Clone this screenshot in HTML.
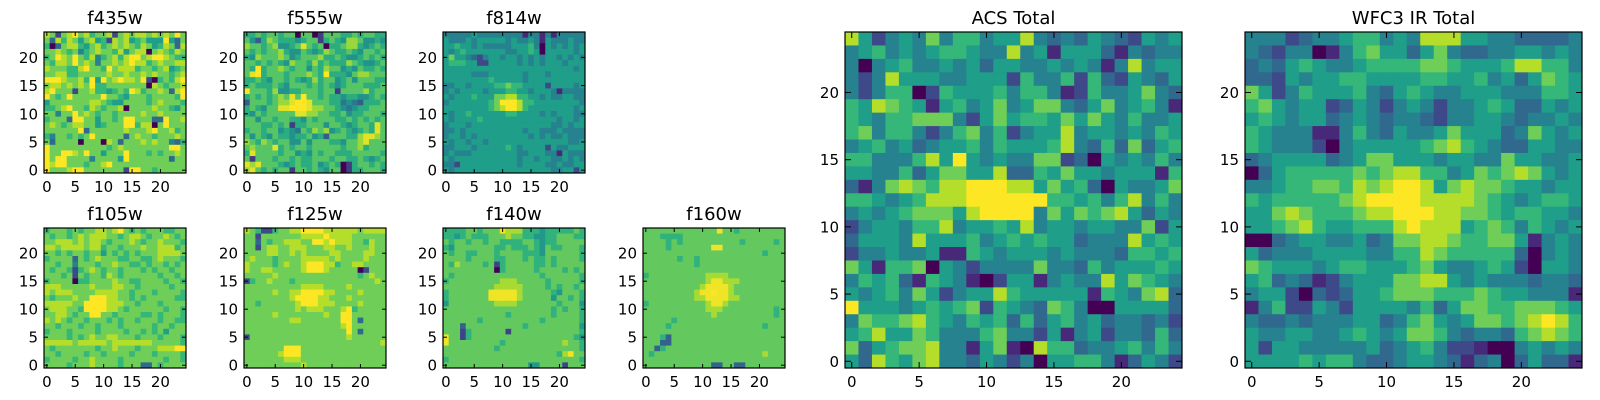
<!DOCTYPE html>
<html><head><meta charset="utf-8"><style>
html,body{margin:0;padding:0;background:#fff;}
svg{display:block;font-family:"DejaVu Sans","Liberation Sans",sans-serif;}
</style></head><body>
<svg id="fig" width="1600" height="400" viewBox="0 0 1600 400" xmlns="http://www.w3.org/2000/svg"></svg>
<script>
// Each heatmap: 25 rows (top row = y 24 ... bottom row = y 0), digits 0-9 = colour level
const f435w = [
"7616786756671676776767686","6275764674517674564448426","5026775467567676576457627","6676563567665746770676576",
"5687686573567578867897655","6577686763667678775676677","7666557866586777566567456","6677556666676676676766567",
"8887667594867877681056578","6776767695566666660765667","7866616675545658756676278","9656866666866546665666658",
"4666666677654466665676665","5567866576566706666766546","6636686765665666676676666","5666298664665688666228667",
"6765677664566688577068666","6666668266666676667866756","5366565686666626766566676","6266660666076266676766325",
"8666666666656766666666886","8668876866466686665656676","8699666636666486666666266","8799666566786666666666666",
"8666798666666618866566666"];
const f555w = [
"5565665660660166655656655","6425765554566156547764454","7665674456865605567754565","6565667544654576556546656",
"5476667645666755654456565","6656565476657565557654456","6595667656646576645465565","6895666566676595554677666",
"5565466565457566456466655","5655565466656565456665556","9666574455666566166667566","5656567686966565545544565",
"2666567789986665534325556","5654668899987766543455666","5465666668877665564556665","6646656655465666556565656",
"6665565615566646654566586","5665664543657674565456586","6465465545564526665578876","7657656644646665546678666",
"6766685656656666656675666","5866665664546566555666665","6166656656556665665565456","8786665456556456501566565",
"7865656616656546601556665"];
const f814w = [
"4444454444444414414144444","5444545555545445415444544","5565545444445556405454545","5456555555544556505555545",
"5755432455455454545545454","5666552255555454545554555","5555555555555555555555545","5555544455555545554555555",
"5555555565555545555555555","4455455556676655552555545","4545555455566554555414444","5455565557788665545445544",
"4555555567999866555555554","5555555567899865555555545","5455655555566555545455544","5455556555555555555545545",
"4555455555555555555445455","4454555555555545544454444","4554545555555554545445444","5455455455555555555555445",
"4455545555565455552544555","4544455555555445554415444","5455555555555455455445454","4425555555555455554454455",
"5455555555555555555445525"];
const f105w = [
"5666565667767865656665566","6566567677766567765667656","6677767677656667656676665","7767777677566566676677756",
"6656566566465656566677776","5666626567666556655676665","6656636665667665565665656","6566515676566566656566566",
"6665616566576566666656656","5666605566667665566665665","7776666676667766566666566","7677766667777665666566665",
"6566676688877665656666655","7777766889977766566656666","6777665899977656666665665","6677656688665666655656665",
"7676566566656566566656655","6656665665666566666566566","5666566665666656656564666","6666565676677666566656665",
"7777767777767777777666665","6566666665667666566677788","6656666566566665666566665","5666656676666566666665665",
"6666566676666566622656666"];
const f125w = [
"7651156677888877777767777","6616666666777787777666666","6626566777668878777665766","6616776677766677667666766",
"6666776676766667766667766","6766656666777776766667666","7666656766788877566776666","7667766666788876666601666",
"6666676666666666666656766","1566766656666666666666676","6666666666777766667666666","6666676677888877666676666",
"6666666678888776667666666","6656666667888777666676666","6666666667677766678566666","6666676666666676689666666",
"6666666677666666689626666","6666666666666666678666666","6666666666666666668626666","1666666666666666667666666",
"6666666666666666666666667","6666666888666666666666666","6666667888666666666666666","6666666777666666666666666",
"6666666666766666666666666"];
const f140w = [
"5555665666877755545555565","5545655566676655445566655","6566566566555566545566666","5466666665565556546556665",
"6566556665666655546666665","6666566665566656556566665","6576666561566666556566666","6666666660566666566665656",
"6566666666666666656666665","5666666666777666665666665","6666666667777766665656656","5666666688888766666546665",
"5666666688888766666466565","4666666667777666666656664","6666666666666666666565665","6666666666656666666566665",
"6666665666666666656666665","6662666666666656666666664","6661566666616666666666665","8661566666666666666666654",
"8666666666566666666667665","6666666665666666666666665","6666666666666666666657866","5666666666666666666666665",
"6666666666666664466661666"];
const f160w = [
"6666666666666866566666666","6665555666666666666666666","6666565666666666656666656","6666566666668866666666666",
"6666666666666666666665666","6666665665666666666666666","6666666665666666666666666","6666666666666666666666666",
"5666666666677776666666666","6666666666678877766666666","6666666666788887666666666","6666666667889887666666666",
"6666666667788887766666666","5666666666678876666666666","6666666666677766666666656","6666666666667666666666656",
"6666656666666666666666666","6666566666666666666665666","6666666666666666666666666","6665266666666666666666666",
"6662266666666666666666666","6625666666666666666666666","6566666666666666666667666","6666666666666666666666666",
"6666666666662266226666666"];
const acsTotal = [
"8524547466455843435432545","4564545665448451555314344","4045644545355445454148455","4248555445552644626325435",
"4246602655564664126445743","6587651564574577435745641","6546677742575665757546445","6746642467462455845545465",
"4564534556465556843637356","6644468595454477230545464","5544635775583365755455516","3147876889998857563054457",
"6654568889999996656468464","4545677758999947576785354","2455466845565845545544725","3555485556456565534448565",
"2445445116545554544436656","7516670542444474436455565","4656316541025514544857654","5456475245586555551654783",
"9555456567265437640055553","4766786546563635645344342","5685576444674425145244363","7356778441571086634456464",
"5386578443542405566413542"];
const wfc3Total = [
"4442344566454888554433334","4324401467553574334455454","3435654456666776555688664","3325455665555665564535765",
"7524655564356544555444665","6754552354245424456533545","5654553454344324455434454","6544411464354457555347545",
"6544420455555678654335544","3455553457755545544755445","0356666676788664576787545","4456677687899857877655455",
"6566666789999888876545665","5578766678899988776566554","5567865566689888567646545","0034554453477887667751454",
"5344455554466876666630454","7655545665556754456520554","5634312455577885454443443","4552032355677766676554441",
"1462254255554635776677765","4334344455346754577678986","5445544565457764344367876","5255444445345642210045454",
"5555656643345543134035331"];

const viridis = [[68,1,84],[72,40,120],[62,73,137],[49,104,142],[38,130,142],[31,158,137],[53,183,121],[110,206,88],[181,222,43],[253,231,37]];
function cmap(t){
  t = Math.max(0, Math.min(1, t));
  const f = t * 9, i = Math.min(8, Math.floor(f)), r = f - i;
  const a = viridis[i], b = viridis[i+1];
  return "rgb(" + a.map((v,k)=>Math.round(v + (b[k]-v)*r)).join(",") + ")";
}

const panels = [
  {name:"f435w", data:f435w, x:44, y:32, w:142, h:141, big:false, shift:1.0},
  {name:"f555w", data:f555w, x:244, y:32, w:142, h:141, big:false, shift:0.6},
  {name:"f814w", data:f814w, x:443, y:32, w:142, h:141, big:false, shift:0},
  {name:"f105w", data:f105w, x:44, y:228, w:142, h:140, big:false, shift:1.0},
  {name:"f125w", data:f125w, x:244, y:228, w:142, h:140, big:false, shift:1.0},
  {name:"f140w", data:f140w, x:443, y:228, w:142, h:140, big:false, shift:0.8},
  {name:"f160w", data:f160w, x:643, y:228, w:142, h:140, big:false, shift:0.8},
  {name:"ACS Total", data:acsTotal, x:845, y:32, w:337, h:336, big:true, shift:0},
  {name:"WFC3 IR Total", data:wfc3Total, x:1245, y:32, w:337, h:336, big:true, shift:0}
];
const ticks = [0,5,10,15,20];
const NS = "http://www.w3.org/2000/svg";
const svg = document.getElementById("fig");
function mk(tag, attrs, parent){
  const e = document.createElementNS(NS, tag);
  for (const k in attrs) e.setAttribute(k, attrs[k]);
  (parent||svg).appendChild(e);
  return e;
}
function slug(s){return s.toLowerCase().replace(/[^a-z0-9]+/g,"-");}
panels.forEach(p=>{
  const g = mk("g",{});
  
  
  const n = 25;
  const sx = v => p.x + (v + 0.5) * p.w / n;
  const sy = v => p.y + p.h - (v + 0.5) * p.h / n;
  const cw = p.w / n, ch = p.h / n;
  for (let r = 0; r < n; r++) {
    const row = p.data[r] || "";
    const yv = n - 1 - r;
    for (let c = 0; c < n; c++) {
      const d = parseInt(row[c] || "5", 10);
      const rect = mk("rect",{x:(sx(c)-cw/2).toFixed(2), y:(sy(yv)-ch/2).toFixed(2), width:(cw+0.4).toFixed(2), height:(ch+0.4).toFixed(2), fill:cmap((d + (d>0?p.shift:0))/9)}, g);
      
      
    }
  }
  const frame = mk("rect",{x:p.x, y:p.y, width:p.w, height:p.h, fill:"none", stroke:"#000", "stroke-width":1.2}, g);
  
  
  const tl = p.big ? 6 : 4;
  const fs = 15;
  ticks.forEach(t=>{
    const x = sx(t), y = sy(t);
    mk("line",{x1:x,y1:p.y+p.h,x2:x,y2:p.y+p.h-tl,stroke:"#000","stroke-width":1},g);
    mk("line",{x1:x,y1:p.y,x2:x,y2:p.y+tl,stroke:"#000","stroke-width":1},g);
    mk("line",{x1:p.x,y1:y,x2:p.x+tl,y2:y,stroke:"#000","stroke-width":1},g);
    mk("line",{x1:p.x+p.w,y1:y,x2:p.x+p.w-tl,y2:y,stroke:"#000","stroke-width":1},g);
    const xl = mk("text",{x:x, y:p.y+p.h+19, "text-anchor":"middle", "font-size":fs, fill:"#000"}, g);
    xl.textContent = t;
    
    
    const yl = mk("text",{x:p.x-6, y:y+5.5, "text-anchor":"end", "font-size":fs, fill:"#000"}, g);
    yl.textContent = t;
    
    
  });
  const title = mk("text",{x:p.x+p.w/2, y:p.y-8, "text-anchor":"middle", "font-size":18, fill:"#000"}, g);
  title.textContent = p.name;
  
  
});
</script>
</body></html>
